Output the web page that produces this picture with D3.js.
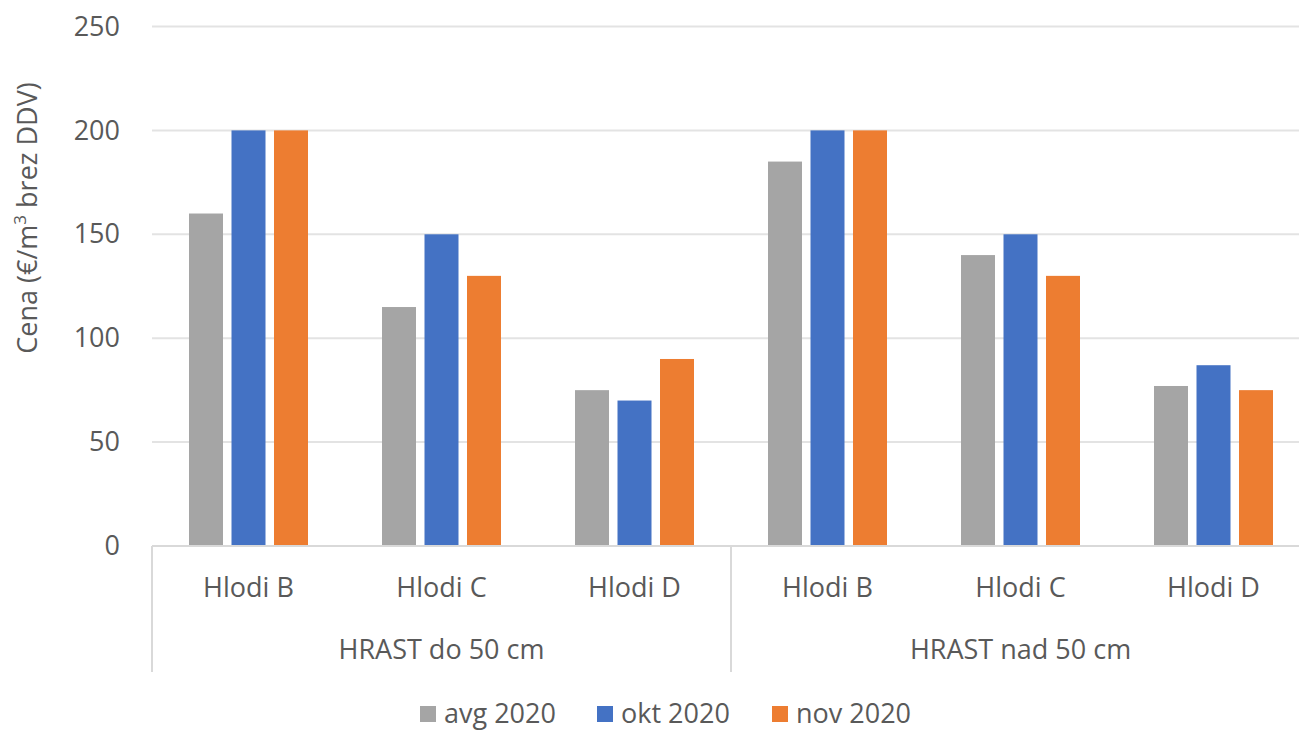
<!DOCTYPE html>
<html>
<head>
<meta charset="utf-8">
<script src="https://cdn.jsdelivr.net/npm/d3@7"></script>
<style>
  html, body { margin: 0; padding: 0; background: #fff; }
  svg { display: block; }
  text { font-family: "Open Sans", sans-serif; fill: #595959; }
</style>
</head>
<body>
<svg id="chart" width="1299" height="731"></svg>
<script>
// ---- data ----
const groups = ["HRAST do 50 cm", "HRAST nad 50 cm"];
const categories = ["Hlodi B", "Hlodi C", "Hlodi D"];
const seriesNames = ["avg 2020", "okt 2020", "nov 2020"];
const avg2020 = [160, 115, 75, 185, 140, 77];
const okt2020 = [200, 150, 70, 200, 150, 87];
const nov2020 = [200, 130, 90, 200, 130, 75];
const yTicks = [0, 50, 100, 150, 200, 250];
const colors = ["#A5A5A5", "#4472C4", "#ED7D31"];

(function () {
const seriesValues = [avg2020, okt2020, nov2020];
const rows = [];
groups.forEach((g, gi) => categories.forEach((c, ci) => {
  const idx = gi * categories.length + ci;
  rows.push({ key: g + "|" + c, group: g, cat: c, values: seriesValues.map(s => s[idx]) });
}));

// ---- layout ----
const svg = d3.select("#chart");
const pLeft = 152, pRight = 1310, pTop = 26.5, pBottom = 546;

const x0 = d3.scaleBand().domain(rows.map(r => r.key))
  .range([pLeft, pRight]).paddingInner(0.3834).paddingOuter(0.1917);
const x1 = d3.scaleBand().domain(seriesNames)
  .range([0, x0.bandwidth()]).paddingInner(0.2);
const y = d3.scaleLinear().domain([0, 250]).range([pBottom, pTop]);

// gridlines
svg.append("g").selectAll("line").data(yTicks.filter(t => t > 0)).join("line")
  .attr("x1", pLeft).attr("x2", 1299)
  .attr("y1", d => y(d)).attr("y2", d => y(d))
  .attr("stroke", "#E3E3E3").attr("stroke-width", 2);

// y axis tick labels
const yAxis = d3.axisLeft(y).tickValues(yTicks).tickSize(0).tickPadding(0);
const gy = svg.append("g").attr("transform", "translate(120,0)").call(yAxis);
gy.select(".domain").remove();
gy.selectAll("text").attr("font-size", 27).attr("fill", "#595959")
  .attr("font-family", "Open Sans, sans-serif");

// bars
const barG = svg.append("g").selectAll("g").data(rows).join("g")
  .attr("transform", d => `translate(${x0(d.key)},0)`);
barG.selectAll("rect").data(d => d.values.map((v, i) => ({ s: seriesNames[i], v, i })))
  .join("rect")
  .attr("x", d => x1(d.s))
  .attr("width", x1.bandwidth())
  .attr("y", d => y(d.v))
  .attr("height", d => y(0) - y(d.v))
  .attr("fill", d => colors[d.i]);

// x axis baseline
svg.append("line").attr("x1", pLeft).attr("x2", 1299)
  .attr("y1", pBottom).attr("y2", pBottom)
  .attr("stroke", "#D9D9D9").attr("stroke-width", 2);

// group divider lines
const step = x0.step();
const dividers = d3.range(groups.length + 1).map(i => pLeft + i * categories.length * step);
svg.append("g").selectAll("line").data(dividers).join("line")
  .attr("x1", d => d).attr("x2", d => d)
  .attr("y1", pBottom).attr("y2", 672)
  .attr("stroke", "#D9D9D9").attr("stroke-width", 2);

// category labels
svg.append("g").selectAll("text").data(rows).join("text")
  .attr("x", d => x0(d.key) + x0.bandwidth() / 2)
  .attr("y", 597)
  .attr("text-anchor", "middle")
  .attr("font-size", 27)
  .text(d => d.cat);

// group labels
svg.append("g").selectAll("text").data(groups).join("text")
  .attr("x", (d, i) => (dividers[i] + dividers[i + 1]) / 2)
  .attr("y", 659)
  .attr("text-anchor", "middle")
  .attr("font-size", 27)
  .text(d => d);

// y axis title
const yt = svg.append("text")
  .attr("transform", "translate(37,218) rotate(-90)")
  .attr("text-anchor", "middle")
  .attr("font-size", 27);
yt.append("tspan").text("Cena (€/m");
yt.append("tspan").attr("font-size", 17).attr("dy", -11).text("3");
yt.append("tspan").attr("dy", 11).text(" brez DDV)");

// legend
const legendX = [420, 597, 772];
const leg = svg.append("g").selectAll("g").data(seriesNames).join("g")
  .attr("transform", (d, i) => `translate(${legendX[i]},0)`);
leg.append("rect").attr("x", 0).attr("y", 706).attr("width", 16).attr("height", 16)
  .attr("fill", (d, i) => colors[i]);
leg.append("text").attr("x", 24).attr("y", 723).attr("font-size", 27).text(d => d);
})();
</script>
</body>
</html>
